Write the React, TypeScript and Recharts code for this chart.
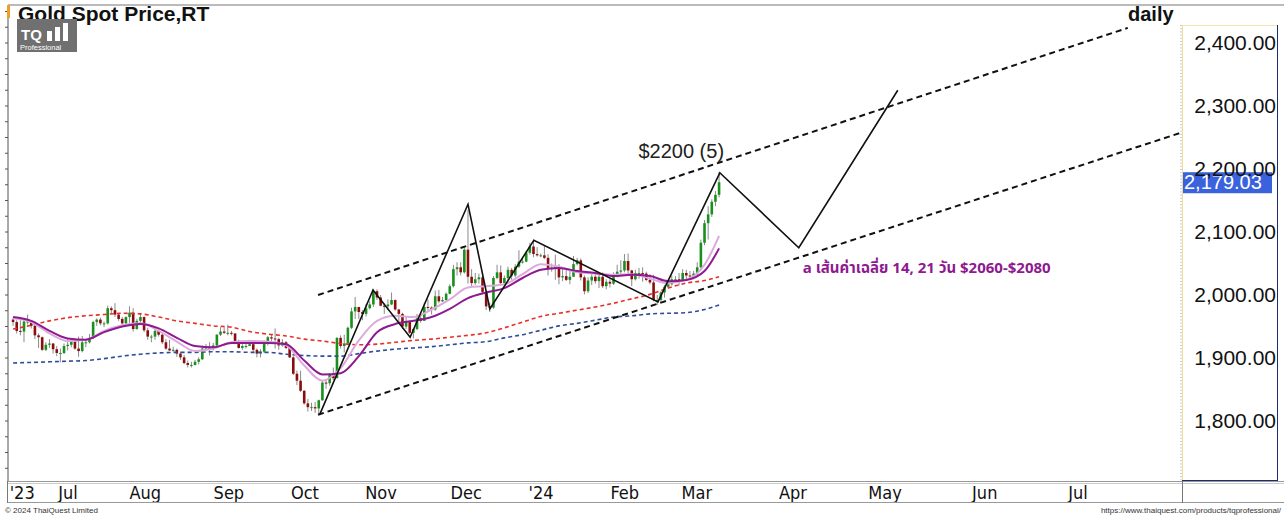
import { Bar, ComposedChart, Line, ReferenceDot, ReferenceLine, XAxis, YAxis } from "recharts"

// daily OHLC, one row per month (Jun 12 2023 .. Mar 8 2024, weekdays)
const opens = [
  1961, 1957, 1943, 1942, 1958, 1958, 1951, 1936, 1933, 1913, 1921, 1923, 1914, 1908, 1908,
  1919, 1921, 1926, 1915, 1911, 1925, 1925, 1932, 1957, 1961, 1955, 1955, 1979, 1976, 1969, 1962, 1955, 1965, 1972, 1946, 1959,
  1965, 1944, 1934, 1934, 1943, 1937, 1925, 1915, 1912, 1913, 1907, 1901, 1892, 1889, 1889, 1894, 1898, 1915, 1917, 1914, 1920, 1937, 1942,
  1940, 1940, 1939, 1926, 1916, 1919, 1919, 1922, 1913, 1907, 1910, 1923, 1933, 1931, 1930, 1920, 1925, 1916, 1901, 1875, 1864,
  1848, 1828, 1822, 1822, 1820, 1833, 1861, 1860, 1874, 1868, 1932, 1919, 1923, 1948, 1974, 1981, 1973, 1970, 1979, 1985, 2006, 1996,
  1983, 1982, 1985, 1992, 1977, 1970, 1950, 1958, 1940, 1946, 1963, 1959, 1981, 1980, 1977, 1998, 1990, 1992, 2002, 2014, 2041, 2044,
  2036, 2072, 2029, 2019, 2025, 2028, 2005, 1982, 1980, 2027, 2036, 2019, 2027, 2040, 2031, 2045, 2053, 2053, 2067, 2077, 2065,
  2063, 2063, 2059, 2041, 2043, 2045, 2028, 2030, 2024, 2029, 2049, 2055, 2028, 2006, 2023, 2029, 2022, 2029, 2014, 2021, 2018, 2032, 2037,
  2039, 2054, 2039, 2025, 2035, 2035, 2034, 2024, 2020, 1992, 1992, 2004, 2013, 2017, 2025, 2025, 2024, 2035, 2031, 2030, 2034,
  2044, 2083, 2114, 2128, 2148, 2159,
]
const highs = [
  1964, 1960, 1960, 1960, 1969, 1960, 1954, 1939, 1934, 1925, 1930, 1924, 1919, 1915, 1923,
  1930, 1930, 1931, 1934, 1935, 1930, 1938, 1959, 1963, 1964, 1958, 1983, 1982, 1987, 1972, 1965, 1966, 1982, 1979, 1962, 1970,
  1966, 1948, 1937, 1946, 1943, 1938, 1930, 1929, 1918, 1915, 1910, 1905, 1896, 1894, 1897, 1901, 1920, 1922, 1925, 1924, 1938, 1949, 1949,
  1953, 1943, 1939, 1929, 1922, 1925, 1929, 1925, 1915, 1914, 1928, 1935, 1937, 1947, 1932, 1930, 1927, 1916, 1903, 1880, 1880,
  1849, 1835, 1829, 1830, 1834, 1865, 1866, 1876, 1885, 1933, 1936, 1937, 1950, 1980, 1997, 1979, 1976, 1986, 1990, 2010, 2009, 2000,
  1987, 1993, 2004, 1993, 1978, 1972, 1966, 1960, 1947, 1970, 1968, 1988, 1993, 1982, 2007, 2008, 1997, 2004, 2017, 2048, 2052, 2052,
  2076, 2135, 2041, 2035, 2034, 2035, 2006, 1988, 2030, 2048, 2047, 2031, 2045, 2043, 2049, 2071, 2058, 2070, 2083, 2088, 2076,
  2066, 2079, 2065, 2050, 2064, 2049, 2041, 2040, 2040, 2062, 2059, 2058, 2031, 2028, 2033, 2033, 2033, 2036, 2025, 2025, 2036, 2048, 2055,
  2065, 2066, 2040, 2040, 2043, 2044, 2037, 2033, 2032, 2000, 2006, 2016, 2023, 2031, 2030, 2035, 2041, 2040, 2038, 2038, 2052,
  2088, 2119, 2141, 2152, 2165, 2195,
]
const lows = [
  1951, 1939, 1936, 1925, 1953, 1947, 1930, 1916, 1911, 1911, 1916, 1907, 1903, 1893, 1906,
  1912, 1917, 1913, 1902, 1909, 1917, 1923, 1930, 1951, 1952, 1949, 1953, 1970, 1965, 1959, 1952, 1952, 1955, 1942, 1945, 1955,
  1941, 1929, 1925, 1929, 1934, 1922, 1913, 1911, 1910, 1902, 1897, 1890, 1885, 1885, 1888, 1890, 1897, 1911, 1904, 1912, 1918, 1935, 1938,
  1936, 1936, 1922, 1915, 1913, 1915, 1919, 1908, 1901, 1901, 1908, 1920, 1926, 1915, 1913, 1918, 1914, 1900, 1873, 1857, 1846,
  1826, 1815, 1816, 1813, 1810, 1832, 1851, 1856, 1865, 1868, 1915, 1909, 1922, 1946, 1962, 1962, 1960, 1966, 1977, 1981, 1992, 1982,
  1970, 1976, 1984, 1975, 1955, 1946, 1946, 1938, 1931, 1944, 1956, 1959, 1973, 1969, 1975, 1987, 1989, 1991, 2001, 2012, 2031, 2031,
  2034, 2018, 2014, 2016, 2018, 2001, 1976, 1973, 1978, 2025, 2016, 2016, 2022, 2024, 2028, 2043, 2050, 2052, 2064, 2060, 2061,
  2060, 2057, 2031, 2037, 2024, 2017, 2022, 2022, 2017, 2029, 2047, 2023, 2001, 2003, 2016, 2018, 2011, 2011, 2009, 2012, 2016, 2028, 2030,
  2036, 2033, 2014, 2023, 2026, 2021, 2022, 2017, 1990, 1984, 1989, 1996, 2011, 2015, 2019, 2015, 2022, 2025, 2025, 2025, 2031,
  2039, 2079, 2088, 2124, 2141, 2155,
]
const closes = [
  1957, 1943, 1942, 1958, 1958, 1951, 1936, 1933, 1913, 1921, 1923, 1914, 1908, 1908, 1919,
  1921, 1926, 1915, 1911, 1925, 1925, 1932, 1957, 1961, 1955, 1955, 1979, 1976, 1969, 1962, 1955, 1965, 1972, 1946, 1959, 1965,
  1944, 1934, 1934, 1943, 1937, 1925, 1915, 1912, 1913, 1907, 1901, 1892, 1889, 1889, 1894, 1898, 1915, 1917, 1914, 1920, 1937, 1942, 1940,
  1940, 1939, 1926, 1916, 1919, 1919, 1922, 1913, 1907, 1910, 1923, 1933, 1931, 1930, 1920, 1925, 1916, 1901, 1875, 1864, 1848,
  1828, 1822, 1822, 1820, 1833, 1861, 1860, 1874, 1868, 1932, 1919, 1923, 1948, 1974, 1981, 1973, 1970, 1979, 1985, 2006, 1996, 1983,
  1982, 1985, 1992, 1977, 1970, 1950, 1958, 1940, 1946, 1963, 1959, 1981, 1980, 1977, 1998, 1990, 1992, 2002, 2014, 2041, 2044, 2036,
  2072, 2029, 2019, 2025, 2028, 2005, 1982, 1980, 2027, 2036, 2019, 2027, 2040, 2031, 2045, 2053, 2053, 2067, 2077, 2065, 2063,
  2063, 2059, 2041, 2043, 2045, 2028, 2030, 2024, 2029, 2049, 2055, 2028, 2006, 2023, 2029, 2022, 2029, 2014, 2021, 2018, 2032, 2037, 2039,
  2054, 2039, 2025, 2035, 2035, 2034, 2024, 2020, 1992, 1992, 2004, 2013, 2017, 2025, 2025, 2024, 2035, 2031, 2030, 2034, 2044,
  2083, 2114, 2128, 2148, 2159, 2179,
]

// moving averages every 5 sessions
const maDays = [0, 5, 10, 15, 20, 25, 30, 35, 40, 45, 50, 55, 60, 65, 70, 75, 80, 85, 90, 95,
  100, 105, 110, 115, 120, 125, 130, 135, 140, 145, 150, 155, 160, 165, 170, 175, 180, 185, 190, 194]
const ma14 = [1963, 1957, 1939, 1927, 1929, 1943, 1952, 1955, 1943, 1926, 1911, 1915, 1925, 1927, 1926, 1920, 1888, 1864, 1884, 1928,
  1959, 1967, 1965, 1977, 1993, 2012, 2014, 2017, 2033, 2049, 2045, 2036, 2034, 2032, 2033, 2026, 2019, 2024, 2048, 2094]
const ma21 = [1965, 1959, 1943, 1931, 1929, 1941, 1950, 1954, 1947, 1932, 1919, 1917, 1924, 1924, 1924, 1922, 1896, 1874, 1876, 1903,
  1941, 1954, 1959, 1965, 1978, 1995, 2004, 2011, 2027, 2040, 2043, 2038, 2035, 2030, 2032, 2030, 2022, 2024, 2038, 2074]
const ma50 = [1946, 1952, 1959, 1964, 1967, 1969, 1971, 1970, 1965, 1959, 1955, 1951, 1949, 1942, 1938, 1935, 1930, 1927, 1923, 1921,
  1922, 1925, 1928, 1930, 1933, 1936, 1940, 1948, 1957, 1966, 1971, 1976, 1981, 1987, 1994, 2001, 2011, 2019, 2023, 2029]
const ma200 = [1892, 1893, 1894, 1895, 1896, 1899, 1903, 1906, 1908, 1909, 1909, 1910, 1910, 1909, 1909, 1906, 1904, 1903, 1903, 1907,
  1911, 1914, 1916, 1918, 1921, 1924, 1926, 1932, 1937, 1944, 1951, 1955, 1960, 1965, 1967, 1970, 1971, 1972, 1977, 1984]

// hand-drawn wave count and channel
const waveDays = [84.3, 98.9, 109.1, 125, 131, 143.1, 177.2, 194.2, 215.9, 243.1]
const wavePrices = [1811, 2008, 1933, 2144, 1978, 2087, 1989, 2194, 2075, 2325]
const upperDays = [83.8, 306.3]
const upperPrices = [2000, 2424]
const lowerDays = [83.8, 320.6]
const lowerPrices = [1810, 2257]

const monthDays = [2.5, 15.1, 36.3, 59.3, 80.2, 101.1, 124.5, 145.1, 168.1, 187.9, 214.3, 239.6, 267, 292.6]
const monthLabels = ["'23", "Jul", "Aug", "Sep", "Oct", "Nov", "Dec", "'24", "Feb", "Mar", "Apr", "May", "Jun", "Jul"]
const priceTicks = [1800, 1900, 2000, 2100, 2200, 2300, 2400]
const minorTicks = [1725, 1750, 1775, 1800, 1825, 1850, 1875, 1900, 1925, 1950, 1975, 2000, 2025, 2050, 2075, 2100,
  2125, 2150, 2175, 2200, 2225, 2250, 2275, 2300, 2325, 2350, 2375, 2400, 2425, 2450]
const lastPrice = 2179.03

const candles = closes.map((c, i) => ({ x: i, range: [lows[i], highs[i]], open: opens[i], close: c }))
const series = (days: number[], vals: number[]) => days.map((x, k) => ({ x, v: vals[k] }))

const FONT = "'Liberation Sans', Arial, sans-serif"

function Candle(props: any) {
  const { x, y, width, height, payload } = props
  if (height == null || !payload) return null
  const [lo, hi] = payload.range
  const cx = x + width / 2
  const toY = (v: number) => y + ((hi - v) / (hi - lo)) * height
  const up = payload.close >= payload.open
  const top = toY(Math.max(payload.open, payload.close))
  const bot = toY(Math.min(payload.open, payload.close))
  return (
    <g>
      <line x1={cx} x2={cx} y1={y} y2={y + height} stroke="#8a8a8a" strokeWidth={1} />
      <rect x={cx - 1.3} y={top} width={2.6} height={Math.max(1, bot - top)} fill={up ? "#17901c" : "#8c0c0c"} />
    </g>
  )
}

function MonthTick(props: any) {
  const { x, y, index } = props
  return (
    <text x={x} y={y + 18} textAnchor="middle" fontSize={18} fill="#111"
      fontFamily="'Liberation Sans Narrow', 'DejaVu Sans Condensed', sans-serif">
      {monthLabels[index]}
    </text>
  )
}

function PriceTick(props: any) {
  const { x, y, payload } = props
  return (
    <text x={x + 92} y={y + 7} textAnchor="end" fontSize={21} fill="#111" fontFamily={FONT}>
      {payload.value.toLocaleString("en-US", { minimumFractionDigits: 2 })}
    </text>
  )
}

function MinorTick(props: any) {
  const { x, y } = props
  return <line x1={x - 3} x2={x} y1={y} y2={y} stroke="#555" />
}

function LastPriceLabel(props: any) {
  const { viewBox } = props
  const yy = viewBox.y
  const xx = viewBox.x + viewBox.width + 1
  return (
    <g>
      <rect x={xx} y={yy - 10} width={89} height={21} fill="#3a62dc" />
      <text x={xx + 1} y={yy + 7} fontSize={20} fill="#fff" fontFamily={FONT}>
        {lastPrice.toLocaleString("en-US", { minimumFractionDigits: 2 })}
      </text>
    </g>
  )
}

function Frame() {
  return (
    <svg width={1284} height={519} style={{ position: "absolute", left: 0, top: 0, pointerEvents: "none" }}>
      <line x1={8} x2={1284} y1={5} y2={5} stroke="#777" />
      <rect x={7} y={5} width={3} height={13} fill="#f0a020" />
      <text x={18} y={21} fontSize={21} fontWeight="bold" fill="#111" fontFamily={FONT}>Gold Spot Price,RT</text>
      <text x={1128} y={21} fontSize={20} fontWeight="bold" fill="#111" fontFamily={FONT}>daily</text>
      <rect x={17} y={19} width={60} height={33} fill="#707070" />
      <text x={21} y={40} fontSize={15} fontWeight="bold" fill="#fff" fontFamily={FONT}>TQ</text>
      <rect x={47} y={31} width={5} height={10} fill="#fff" />
      <rect x={55} y={27} width={5} height={14} fill="#fff" />
      <rect x={63} y={23} width={5} height={18} fill="#fff" />
      <text x={20} y={50} fontSize={7.5} fill="#fff" fontFamily={FONT}>Professional</text>
      <line x1={1182.5} x2={1182.5} y1={25} y2={480} stroke="#f0dc98" />
      <line x1={1183} x2={1277} y1={25.5} y2={25.5} stroke="#f4e6b0" />
      <line x1={1181} x2={1181} y1={25} y2={480} stroke="#9a9a9a" strokeDasharray="1 2.2" />
      <line x1={1277.5} x2={1277.5} y1={25} y2={481} stroke="#1c2c70" />
      <line x1={1182} x2={1278} y1={480.5} y2={480.5} stroke="#1c2c70" />
      <line x1={8} x2={1284} y1={481.5} y2={481.5} stroke="#999" />
      <line x1={8} x2={1284} y1={483.5} y2={483.5} stroke="#ccc" />
      <line x1={8} x2={1284} y1={502.5} y2={502.5} stroke="#999" />
      <line x1={1182.5} x2={1182.5} y1={481} y2={503} stroke="#777" />
      <line x1={7.5} x2={7.5} y1={481} y2={503} stroke="#777" />
      <text x={5} y={513} fontSize={8} fill="#333" fontFamily={FONT}>© 2024 ThaiQuest Limited</text>
      <text x={1281} y={513} fontSize={8} fill="#333" textAnchor="end" fontFamily={FONT}>
        https://www.thaiquest.com/products/tqprofessional/
      </text>
    </svg>
  )
}

export default function App() {
  return (
    <div style={{ position: "absolute", left: 0, top: 0, width: 1284, height: 519, background: "#fff" }}>
      <ComposedChart width={1284} height={519} data={candles} margin={{ top: 5, right: 0, bottom: 16, left: 0 }}>
        <XAxis type="number" dataKey="x" domain={[-1.4, 321.2]} allowDataOverflow ticks={monthDays} interval={0}
          height={22} tickLine={false} axisLine={false} tickSize={0} tickMargin={0} tick={<MonthTick />} />
        <YAxis yAxisId="left" orientation="left" width={8} domain={[1704.8, 2460.3]} allowDataOverflow
          ticks={minorTicks} interval={0} tickLine={false} tickSize={0} tickMargin={0}
          axisLine={{ stroke: "#555" }} tick={<MinorTick />} />
        <YAxis yAxisId="price" orientation="right" width={102} domain={[1704.8, 2460.3]} allowDataOverflow
          ticks={priceTicks} interval={0} tickLine={false} tickSize={0} tickMargin={2}
          axisLine={false} tick={<PriceTick />} />
        <Line yAxisId="price" data={series(maDays, ma200)} dataKey="v" type="monotone" stroke="#2f4d9a"
          strokeWidth={1.6} strokeDasharray="4 3" dot={false} isAnimationActive={false} />
        <Line yAxisId="price" data={series(maDays, ma50)} dataKey="v" type="monotone" stroke="#e8302a"
          strokeWidth={1.6} strokeDasharray="4 3" dot={false} isAnimationActive={false} />
        <Line yAxisId="price" data={series(maDays, ma14)} dataKey="v" type="monotone" stroke="#dcaadc"
          strokeWidth={2} dot={false} isAnimationActive={false} />
        <Line yAxisId="price" data={series(maDays, ma21)} dataKey="v" type="monotone" stroke="#8e1a90"
          strokeWidth={2} dot={false} isAnimationActive={false} />
        <Bar yAxisId="price" dataKey="range" barSize={3} shape={<Candle />} isAnimationActive={false} />
        <Line yAxisId="price" data={series(upperDays, upperPrices)} dataKey="v" type="linear" stroke="#111"
          strokeWidth={2} strokeDasharray="6 4" dot={false} isAnimationActive={false} />
        <Line yAxisId="price" data={series(lowerDays, lowerPrices)} dataKey="v" type="linear" stroke="#111"
          strokeWidth={2} strokeDasharray="6 4" dot={false} isAnimationActive={false} />
        <Line yAxisId="price" data={series(waveDays, wavePrices)} dataKey="v" type="linear" stroke="#111"
          strokeWidth={1.6} dot={false} isAnimationActive={false} />
        <ReferenceDot yAxisId="price" x={183.6} y={2229} r={0}
          shape={(p: any) => (
            <text x={p.cx} y={p.cy + 7} textAnchor="middle" fontSize={20} fill="#222" fontFamily={FONT}>$2200 (5)</text>
          )} />
        <ReferenceDot yAxisId="price" x={217} y={2043} r={0}
          shape={(p: any) => (
            <text x={p.cx} y={p.cy + 5} fontSize={15} fontWeight="bold" fill="#8e1a90"
              fontFamily="'Noto Sans Thai', Tahoma, 'Noto Sans', sans-serif">
              a เส้นค่าเฉลี่ย 14, 21 วัน $2060-$2080
            </text>
          )} />
        <ReferenceLine yAxisId="price" y={lastPrice} stroke="none" label={<LastPriceLabel />} />
      </ComposedChart>
      <Frame />
    </div>
  )
}
